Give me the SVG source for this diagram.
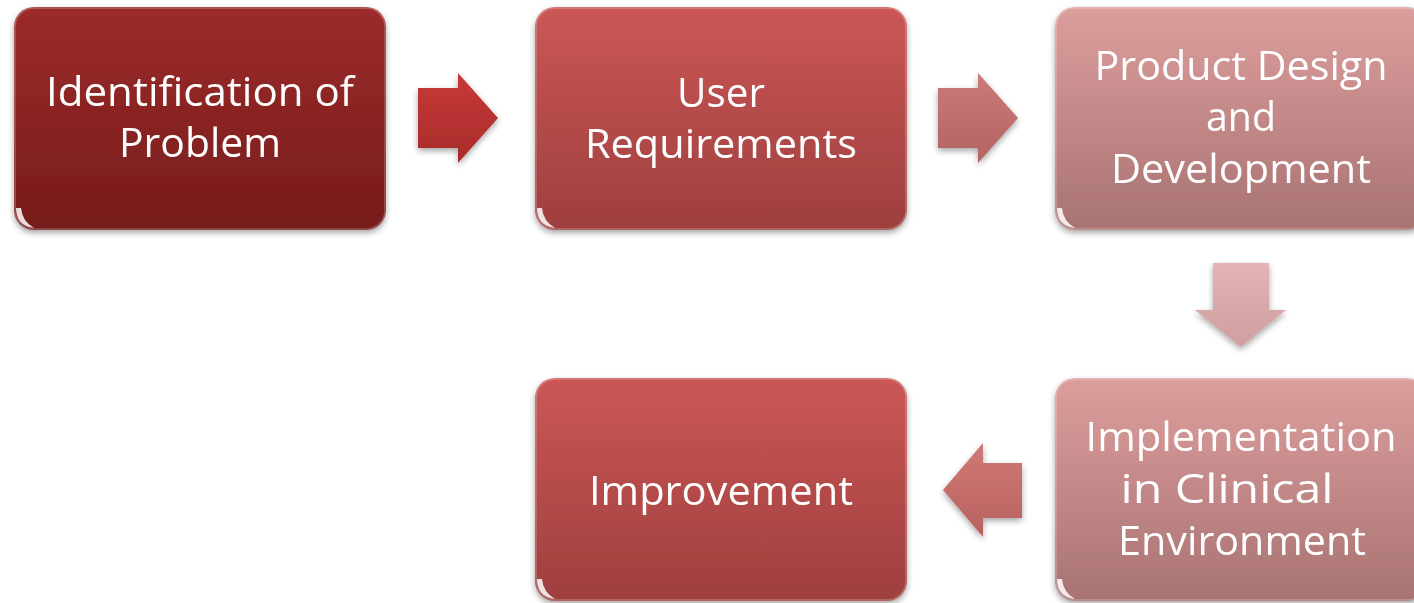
<svg xmlns="http://www.w3.org/2000/svg" width="1414" height="603" viewBox="0 0 1414 603">
  <defs>
    <linearGradient id="gDark" x1="0" y1="0" x2="0" y2="1">
      <stop offset="0" stop-color="#9c2b2a"/>
      <stop offset="1" stop-color="#771c1c"/>
    </linearGradient>
    <linearGradient id="gMid" x1="0" y1="0" x2="0" y2="1">
      <stop offset="0" stop-color="#cb5756"/>
      <stop offset="1" stop-color="#9e3f3e"/>
    </linearGradient>
    <linearGradient id="gLight" x1="0" y1="0" x2="0" y2="1">
      <stop offset="0" stop-color="#dc9e9d"/>
      <stop offset="1" stop-color="#a87372"/>
    </linearGradient>
    <linearGradient id="gArrow1" x1="0" y1="0" x2="0" y2="1">
      <stop offset="0" stop-color="#c63a38"/>
      <stop offset="1" stop-color="#a82b2a"/>
    </linearGradient>
    <linearGradient id="gArrow2" x1="0" y1="0" x2="0" y2="1">
      <stop offset="0" stop-color="#cc7a78"/>
      <stop offset="1" stop-color="#b26462"/>
    </linearGradient>
    <linearGradient id="gArrow3" x1="0" y1="0" x2="0" y2="1">
      <stop offset="0" stop-color="#e2b4b4"/>
      <stop offset="1" stop-color="#cf9e9e"/>
    </linearGradient>
    <linearGradient id="gArrow4" x1="0" y1="0" x2="0" y2="1">
      <stop offset="0" stop-color="#d07876"/>
      <stop offset="1" stop-color="#b86260"/>
    </linearGradient>
    <filter id="shadow" x="-10%" y="-10%" width="120%" height="125%">
      <feGaussianBlur in="SourceAlpha" stdDeviation="3"/>
      <feOffset dx="0" dy="3" result="b"/>
      <feComponentTransfer><feFuncA type="linear" slope="0.35"/></feComponentTransfer>
      <feMerge><feMergeNode/><feMergeNode in="SourceGraphic"/></feMerge>
    </filter>
    <filter id="soft" x="-5%" y="-50%" width="110%" height="200%">
      <feGaussianBlur stdDeviation="1.2"/>
    </filter>
  </defs>
  <style>
    .lbl { font-family: "Open Sans", "Noto Sans", "Liberation Sans", sans-serif; font-size: 40px; fill: #ffffff; text-anchor: middle; }
    .gloss { fill: none; stroke: #ffffff; stroke-opacity: 0.4; stroke-width: 4; stroke-linecap: round; }
    .shine { fill: #ffffff; opacity: 0.85; }
    .edge { fill: none; stroke: #ffffff; stroke-opacity: 0.25; stroke-width: 1.5; }
  </style>

  <rect width="1414" height="603" fill="#ffffff"/>

  <!-- connectors -->
  <g id="connectors" filter="url(#shadow)">
    <path d="M418,88 H458 V73 L498,118 L458,163 V148 H418 Z" fill="url(#gArrow1)"/>
    <path d="M938,88 H978 V73 L1018,118 L978,163 V148 H938 Z" fill="url(#gArrow2)"/>
    <path d="M1213,263 H1269 V310 H1286 L1241,347 L1195,310 H1213 Z" fill="url(#gArrow3)"/>
    <path d="M1022,463 V518 H983 V537 L943,490 L983,443 V463 Z" fill="url(#gArrow4)"/>
  </g>

  <!-- step 1 -->
  <g id="node-identification" filter="url(#shadow)">
    <rect x="14" y="7" width="372" height="223" rx="20" fill="url(#gDark)"/>
    <path class="gloss" d="M32,15 H368" filter="url(#soft)"/>
    <rect class="edge" x="15" y="8" width="370" height="221" rx="19"/>
    <path class="shine" d="M16,208 Q16,226 34,228 Q22,221 21,208 Z"/>
    <text class="lbl"><tspan x="200" y="106" textLength="308" lengthAdjust="spacingAndGlyphs">Identification of</tspan><tspan x="200" y="157" textLength="162" lengthAdjust="spacingAndGlyphs">Problem</tspan></text>
  </g>

  <!-- step 2 -->
  <g id="node-user-requirements" filter="url(#shadow)">
    <rect x="535" y="7" width="372" height="223" rx="20" fill="url(#gMid)"/>
    <path class="gloss" d="M553,15 H889" filter="url(#soft)"/>
    <rect class="edge" x="536" y="8" width="370" height="221" rx="19"/>
    <path class="shine" d="M537,208 Q537,226 555,228 Q543,221 542,208 Z"/>
    <text class="lbl"><tspan x="721" y="107" textLength="88" lengthAdjust="spacingAndGlyphs">User</tspan><tspan x="721" y="158" textLength="272" lengthAdjust="spacingAndGlyphs">Requirements</tspan></text>
  </g>

  <!-- step 3 -->
  <g id="node-product-design" filter="url(#shadow)">
    <rect x="1055" y="7" width="372" height="223" rx="20" fill="url(#gLight)"/>
    <path class="gloss" d="M1073,15 H1409" filter="url(#soft)"/>
    <rect class="edge" x="1056" y="8" width="370" height="221" rx="19"/>
    <path class="shine" d="M1057,208 Q1057,226 1075,228 Q1063,221 1062,208 Z"/>
    <text class="lbl"><tspan x="1241" y="80" textLength="293" lengthAdjust="spacingAndGlyphs">Product Design</tspan><tspan x="1241" y="131" textLength="70" lengthAdjust="spacingAndGlyphs">and</tspan><tspan x="1241" y="183" textLength="260" lengthAdjust="spacingAndGlyphs">Development</tspan></text>
  </g>

  <!-- step 4 -->
  <g id="node-implementation" filter="url(#shadow)">
    <rect x="1055" y="378" width="372" height="223" rx="20" fill="url(#gLight)"/>
    <path class="gloss" d="M1073,386 H1409" filter="url(#soft)"/>
    <rect class="edge" x="1056" y="379" width="370" height="221" rx="19"/>
    <path class="shine" d="M1057,579 Q1057,597 1075,599 Q1063,592 1062,579 Z"/>
    <text class="lbl"><tspan x="1241" y="451" textLength="311" lengthAdjust="spacingAndGlyphs">Implementation</tspan><tspan x="1227" y="503" textLength="213" lengthAdjust="spacingAndGlyphs">in Clinical</tspan><tspan x="1242" y="555" textLength="248" lengthAdjust="spacingAndGlyphs">Environment</tspan></text>
  </g>

  <!-- step 5 -->
  <g id="node-improvement" filter="url(#shadow)">
    <rect x="535" y="378" width="372" height="223" rx="20" fill="url(#gMid)"/>
    <path class="gloss" d="M553,386 H889" filter="url(#soft)"/>
    <rect class="edge" x="536" y="379" width="370" height="221" rx="19"/>
    <path class="shine" d="M537,579 Q537,597 555,599 Q543,592 542,579 Z"/>
    <text class="lbl"><tspan x="721" y="505" textLength="264" lengthAdjust="spacingAndGlyphs">Improvement</tspan></text>
  </g>
</svg>
